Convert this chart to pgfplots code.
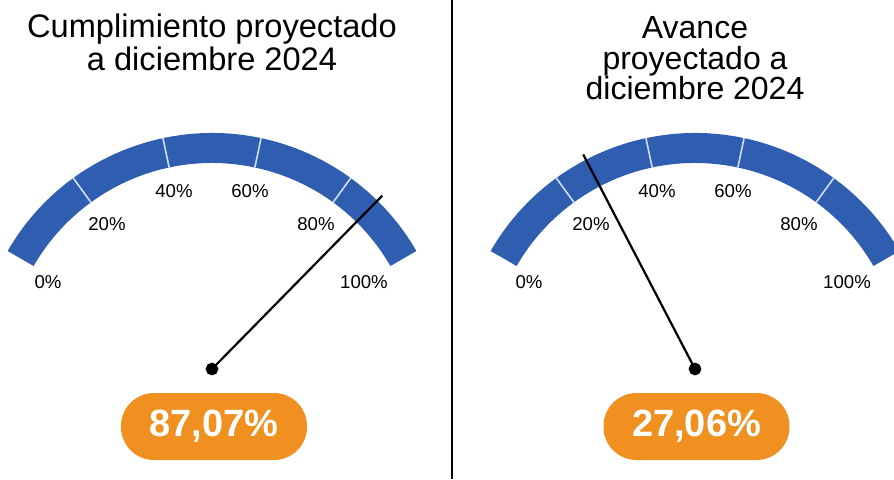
\documentclass[border=0pt]{standalone}
\usepackage{fontspec}
\setmainfont{Liberation Sans}
\usepackage{pgfplots}
\pgfplotsset{compat=1.18}
\definecolor{gblue}{HTML}{2F5DB0}
\definecolor{gorange}{HTML}{F09020}
\definecolor{gsep}{HTML}{D0DEF4}
\begin{document}
\begin{tikzpicture}
\begin{axis}[at={(0,0)}, anchor=south west, width=447pt, height=239.5pt, scale only axis,
  xmin=0, xmax=894, ymin=0, ymax=479, hide axis, clip=true]
\coordinate (SW) at (axis cs:0,0);
\coordinate (NE) at (axis cs:894,479);
% ---- divider
\draw[black, line width=0.75pt] (axis cs:452,0) -- (axis cs:452,479);
% ---- titles
\node[anchor=base, font=\fontsize{16.3}{18}\selectfont] at (axis cs:212,441.7) {Cumplimiento proyectado};
\node[anchor=base, font=\fontsize{16.3}{18}\selectfont] at (axis cs:212,409) {a diciembre 2024};
\node[anchor=base, inner sep=1pt, font=\fontsize{16}{18}\selectfont] at (axis cs:695,440.5) {Avance};
\node[anchor=base, inner sep=1pt, font=\fontsize{16}{18}\selectfont] at (axis cs:695,409.5) {proyectado a};
\node[anchor=base, inner sep=1pt, font=\fontsize{16}{18}\selectfont] at (axis cs:695,379.5) {diciembre 2024};
% ---- left ring
\fill[gblue] (axis cs:212,110) ++(150:118pt) arc[start angle=150, end angle=30, radius=118pt] -- ++(210:15pt) arc[start angle=30, end angle=150, radius=103pt] -- cycle;
\draw[gsep, line width=0.8pt] (axis cs:212,110) ++(126:103pt) -- ++(126:15pt);
\draw[gsep, line width=0.8pt] (axis cs:212,110) ++(102:103pt) -- ++(102:15pt);
\draw[gsep, line width=0.8pt] (axis cs:212,110) ++(78:103pt) -- ++(78:15pt);
\draw[gsep, line width=0.8pt] (axis cs:212,110) ++(54:103pt) -- ++(54:15pt);
% ---- right ring
\fill[gblue] (axis cs:695,110) ++(150:118pt) arc[start angle=150, end angle=30, radius=118pt] -- ++(210:15pt) arc[start angle=30, end angle=150, radius=103pt] -- cycle;
\draw[gsep, line width=0.8pt] (axis cs:695,110) ++(126:103pt) -- ++(126:15pt);
\draw[gsep, line width=0.8pt] (axis cs:695,110) ++(102:103pt) -- ++(102:15pt);
\draw[gsep, line width=0.8pt] (axis cs:695,110) ++(78:103pt) -- ++(78:15pt);
\draw[gsep, line width=0.8pt] (axis cs:695,110) ++(54:103pt) -- ++(54:15pt);
% ---- scale labels
\node[font=\fontsize{9.3}{11}\selectfont] at (axis cs:48,197) {0\%};
\node[font=\fontsize{9.3}{11}\selectfont] at (axis cs:107,255) {20\%};
\node[font=\fontsize{9.3}{11}\selectfont] at (axis cs:174,288) {40\%};
\node[font=\fontsize{9.3}{11}\selectfont] at (axis cs:250,288) {60\%};
\node[font=\fontsize{9.3}{11}\selectfont] at (axis cs:316,255) {80\%};
\node[font=\fontsize{9.3}{11}\selectfont] at (axis cs:364,197) {100\%};
\node[font=\fontsize{9.3}{11}\selectfont] at (axis cs:529,197) {0\%};
\node[font=\fontsize{9.3}{11}\selectfont] at (axis cs:591,255) {20\%};
\node[font=\fontsize{9.3}{11}\selectfont] at (axis cs:657,288) {40\%};
\node[font=\fontsize{9.3}{11}\selectfont] at (axis cs:733,288) {60\%};
\node[font=\fontsize{9.3}{11}\selectfont] at (axis cs:799,255) {80\%};
\node[font=\fontsize{9.3}{11}\selectfont] at (axis cs:847,197) {100\%};
% ---- needles (value in %, r in px)
\addplot[black, line width=1.1pt, mark=*, mark indices={1}, mark size=2.6pt]
  table[row sep=\\, x expr={212+\thisrow{r}*cos(150-1.2*\thisrow{v})}, y expr={110+\thisrow{r}*sin(150-1.2*\thisrow{v})}]
  {v r\\ 87.07 0\\ 87.07 243\\};
\addplot[black, line width=1.1pt, mark=*, mark indices={1}, mark size=2.6pt]
  table[row sep=\\, x expr={695+\thisrow{r}*cos(150-1.2*\thisrow{v})}, y expr={110+\thisrow{r}*sin(150-1.2*\thisrow{v})}]
  {v r\\ 27.06 0\\ 27.06 242\\};
% ---- badges
\node[fill=gorange, rounded corners=16.5pt, minimum width=93pt, minimum height=33.5pt, inner sep=0pt, text=white, font=\bfseries\fontsize{19}{19}\selectfont] at (axis cs:214,52.5) {87,07\%};
\node[fill=gorange, rounded corners=16.5pt, minimum width=93pt, minimum height=33.5pt, inner sep=0pt, text=white, font=\bfseries\fontsize{19}{19}\selectfont] at (axis cs:696.5,52.5) {27,06\%};
\end{axis}
\pgfresetboundingbox
\useasboundingbox (SW) rectangle (NE);
\end{tikzpicture}
\end{document}
